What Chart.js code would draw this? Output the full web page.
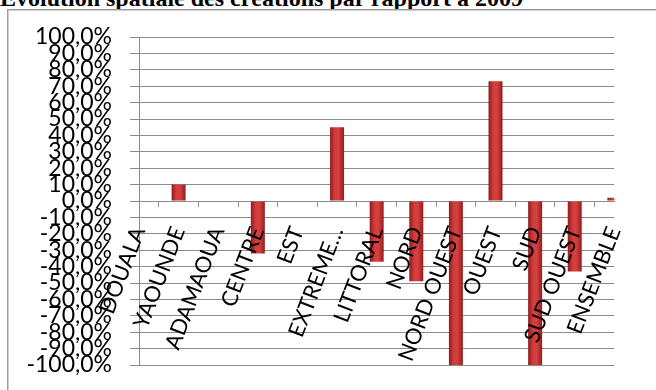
<!DOCTYPE html>
<html>
<head>
<meta charset="utf-8">
<script src="https://cdn.jsdelivr.net/npm/chart.js@4.4.0/dist/chart.umd.min.js"></script>
<style>
  html, body { margin: 0; padding: 0; background: #fff; }
  #wrap { position: relative; width: 656px; height: 390px; overflow: hidden; }
  #title { position: absolute; left: 0; top: -14px; font: bold 24px "Liberation Serif", serif; line-height: 24px; white-space: nowrap; color: #000; }
  #frame { position: absolute; left: 7px; top: 9px; width: 700px; height: 420px; border: 1px solid #9a9a9a; box-shadow: inset 1px 1px 0 #d0d0d0; }
  #mycanvas { position: absolute; left: 0; top: 0; }
</style>
</head>
<body>
<div id="wrap">
  <div id="title">Evolution spatiale des créations par rapport à 2009</div>
  <div id="frame"></div>
  <canvas id="mycanvas" width="656" height="390"></canvas>
</div>
<script>
var regions = ['DOUALA', 'YAOUNDE', 'ADAMAOUA', 'CENTRE', 'EST', 'EXTREME…', 'LITTORAL',
  'NORD', 'NORD OUEST', 'OUEST', 'SUD', 'SUD OUEST', 'ENSEMBLE'];
var evolution = [0, 10, 0, -32, 0, 45, -37, -49, -100, 73, -100, -43, 2];
var yTicks = [-100, -90, -80, -70, -60, -50, -40, -30, -20, -10, 0, 10, 20, 30, 40, 50, 60, 70, 80, 90, 100];

var gridGray = '#8c8c8c';

// cylinder-like shading, like the Excel bars
function barFill(c) {
  var xs = c.chart.scales.x;
  if (!xs || c.type !== 'data') return '#c62f2f';
  var px = xs.getPixelForValue(c.dataIndex);
  if (!isFinite(px)) return '#c62f2f';
  var g = c.chart.ctx.createLinearGradient(px - 7, 0, px + 7, 0);
  g.addColorStop(0, '#8f1c1c');
  g.addColorStop(0.35, '#d23c3c');
  g.addColorStop(0.6, '#d54040');
  g.addColorStop(1, '#951d1d');
  return g;
}

var ctx = document.getElementById('mycanvas');
new Chart(ctx, {
  type: 'bar',
  data: {
    labels: regions,
    datasets: [{
      label: 'Evolution',
      data: evolution,
      backgroundColor: barFill,
      borderWidth: 0,
      inflateAmount: 0,
      barThickness: 14
    }]
  },
  options: {
    responsive: false,
    animation: false,
    layout: { padding: { left: 0, right: 35, top: 37, bottom: 25 } },
    plugins: { legend: { display: false }, tooltip: { enabled: false } },
    scales: {
      x: {
        type: 'category',
        offset: false,
        position: { y: 0 },
        grid: { drawOnChartArea: false, drawTicks: true, tickLength: 5, color: gridGray },
        border: { display: true, color: gridGray },
        ticks: {
          font: { family: 'Lato', size: 22 }, color: '#000', minRotation: 69, maxRotation: 69,
          autoSkip: false, padding: 17, z: 1
        }
      },
      y: {
        min: -100,
        max: 100,
        afterFit: function(s) {
          s.width = 139;
          s.paddingTop = 14;
          s.paddingBottom = 14;
        },
        afterBuildTicks: function(s) { s.ticks = yTicks.map(function(v) { return { value: v }; }); },
        grid: { color: gridGray, tickLength: 9 },
        border: { display: true, color: gridGray },
        ticks: {
          font: { family: 'Lato', size: 23 }, color: '#000', autoSkip: false, padding: 18,
          callback: function(v) { return v + ',0%'; }
        }
      }
    }
  }
});
</script>
</body>
</html>
